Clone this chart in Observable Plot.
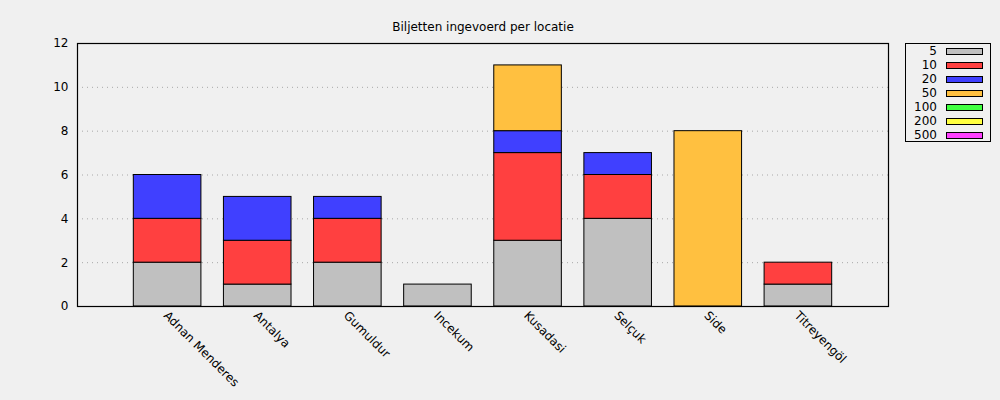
<!DOCTYPE html>
<html>
<head>
<meta charset="utf-8">
<script src="https://cdn.jsdelivr.net/npm/d3@7"></script>
<script src="https://cdn.jsdelivr.net/npm/@observablehq/plot@0.6"></script>
<style>
  html, body { margin: 0; padding: 0; background: #f0f0f0; }
  #wrap { position: relative; width: 1000px; height: 400px; font-family: "DejaVu Sans", sans-serif; }
  #legend { position: absolute; left: 905px; top: 43px; width: 84px; height: 97px; border: 1px solid #000; box-sizing: content-box; }
  .row { position: absolute; left: 0; height: 14px; width: 84px; }
  .row .lab { position: absolute; right: 53px; top: 0px; font-size: 12px; line-height: 14px; color: #000; text-align: right; }
  .row .sw { position: absolute; left: 40px; top: 4px; width: 35px; height: 5px; border: 1px solid #000; }
</style>
</head>
<body>
<div id="wrap"></div>
<script>
const title = "Biljetten ingevoerd per locatie";
const locations = ["Adnan Menderes", "Antalya", "Gumuldur", "Incekum", "Kusadasi", "Selçuk", "Side", "Titreyengöl"];
const denominations = ["5", "10", "20", "50", "100", "200", "500"];
const colors = ["#c0c0c0", "#ff4040", "#4040ff", "#ffc040", "#40ff40", "#ffff40", "#ff40ff"];
const v5   = [2, 1, 2, 1, 3, 4, 0, 1];
const v10  = [2, 2, 2, 0, 4, 2, 0, 1];
const v20  = [2, 2, 1, 0, 1, 1, 0, 0];
const v50  = [0, 0, 0, 0, 3, 0, 8, 0];
const v100 = [0, 0, 0, 0, 0, 0, 0, 0];
const v200 = [0, 0, 0, 0, 0, 0, 0, 0];
const v500 = [0, 0, 0, 0, 0, 0, 0, 0];
const yTicks = [0, 2, 4, 6, 8, 10, 12];
const gridTicks = [2, 4, 6, 8, 10];

const series = [v5, v10, v20, v50, v100, v200, v500];
const table = [];
series.forEach((vals, si) => {
  vals.forEach((v, li) => {
    if (v > 0) table.push({location: locations[li], denom: denominations[si], value: v});
  });
});

const chart = Plot.plot({
  width: 1000,
  height: 400,
  marginLeft: 77,
  marginRight: 112,
  marginTop: 43,
  marginBottom: 94,
  style: {background: "#f0f0f0", fontFamily: "DejaVu Sans, sans-serif", fontSize: "12px", color: "#000"},
  x: {domain: locations, paddingInner: 0.25, paddingOuter: 0.625, round: false, label: null},
  y: {domain: [0, 12], label: null},
  color: {domain: denominations, range: colors},
  marks: [
    Plot.ruleY(gridTicks, {stroke: "#a8a8a8", strokeDasharray: "1,4", strokeWidth: 1}),
    Plot.barY(table, {x: "location", y: "value", fill: "denom", stroke: "#000", strokeWidth: 1, order: denominations}),
    Plot.axisY(yTicks, {tickSize: 0, tickPadding: 9, fontSize: 12, label: null}),
    Plot.axisX({tickSize: 0, tickPadding: 7, tickRotate: 45, fontSize: 12, label: null, dx: -2}),
    Plot.frame({stroke: "#000", strokeWidth: 1.2}),
    Plot.text([title], {frameAnchor: "top", dy: -21, fontSize: 12, fill: "#000"})
  ]
});

const wrap = document.getElementById("wrap");
wrap.appendChild(chart);

const legend = document.createElement("div");
legend.id = "legend";
denominations.forEach((d, i) => {
  const row = document.createElement("div");
  row.className = "row";
  row.style.top = (i * 14) + "px";
  const lab = document.createElement("span");
  lab.className = "lab";
  lab.textContent = d;
  const sw = document.createElement("span");
  sw.className = "sw";
  sw.style.background = colors[i];
  row.appendChild(lab);
  row.appendChild(sw);
  legend.appendChild(row);
});
wrap.appendChild(legend);
</script>
</body>
</html>
